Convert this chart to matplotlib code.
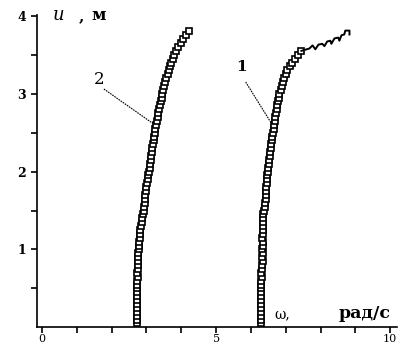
import matplotlib.pyplot as plt
from matplotlib.ticker import MultipleLocator, FixedLocator

# curve 1: omega (rad/s) vs u (m)
u1 = [0.05, 0.10, 0.15, 0.20, 0.25, 0.30, 0.35, 0.40, 0.45, 0.50, 0.55, 0.60, 0.65, 0.70, 0.75,
      0.80, 0.85, 0.90, 0.95, 1.00, 1.05, 1.10, 1.15, 1.20, 1.25, 1.30, 1.35, 1.40, 1.45, 1.50,
      1.55, 1.60, 1.65, 1.70, 1.75, 1.80, 1.85, 1.90, 1.95, 2.00, 2.05, 2.10, 2.15, 2.20, 2.25,
      2.30, 2.35, 2.40, 2.45, 2.50, 2.55, 2.60, 2.65, 2.70, 2.75, 2.80, 2.85, 2.90, 2.95, 3.00,
      3.05, 3.10, 3.15, 3.20, 3.25, 3.30, 3.35, 3.40, 3.45, 3.50, 3.55]
w1 = [6.29, 6.30, 6.29, 6.30, 6.29, 6.30, 6.29, 6.30, 6.30, 6.29, 6.30, 6.30, 6.31, 6.30, 6.31,
      6.33, 6.34, 6.33, 6.34, 6.33, 6.34, 6.34, 6.33, 6.34, 6.35, 6.34, 6.35, 6.35, 6.35, 6.38,
      6.40, 6.41, 6.42, 6.42, 6.43, 6.44, 6.45, 6.46, 6.47, 6.48, 6.50, 6.51, 6.53, 6.54, 6.55,
      6.57, 6.58, 6.60, 6.61, 6.63, 6.65, 6.66, 6.68, 6.70, 6.72, 6.74, 6.76, 6.78, 6.80, 6.82,
      6.85, 6.88, 6.92, 6.96, 7.00, 7.05, 7.11, 7.18, 7.26, 7.35, 7.45]

# zigzag tail at the top of curve 1
w1_tail = [7.45, 7.68, 7.77, 7.85, 7.94, 8.05, 8.11, 8.19, 8.28, 8.31, 8.40, 8.51, 8.54, 8.60,
           8.68, 8.71, 8.83, 8.83]
u1_tail = [3.55, 3.58, 3.62, 3.57, 3.63, 3.64, 3.61, 3.67, 3.68, 3.64, 3.71, 3.72, 3.68, 3.75,
           3.76, 3.81, 3.81, 3.76]

# curve 2
u2 = [0.05, 0.10, 0.15, 0.20, 0.25, 0.30, 0.35, 0.40, 0.45, 0.50, 0.55, 0.60, 0.65, 0.70, 0.75,
      0.80, 0.85, 0.90, 0.95, 1.00, 1.05, 1.10, 1.15, 1.20, 1.25, 1.30, 1.35, 1.40, 1.45, 1.50,
      1.55, 1.60, 1.65, 1.70, 1.75, 1.80, 1.85, 1.90, 1.95, 2.00, 2.05, 2.10, 2.15, 2.20, 2.25,
      2.30, 2.35, 2.40, 2.45, 2.50, 2.55, 2.60, 2.65, 2.70, 2.75, 2.80, 2.85, 2.90, 2.95, 3.00,
      3.05, 3.10, 3.15, 3.20, 3.25, 3.30, 3.35, 3.40, 3.45, 3.50, 3.55, 3.60, 3.65, 3.70, 3.75,
      3.80]
w2 = [2.72, 2.72, 2.73, 2.72, 2.73, 2.72, 2.73, 2.73, 2.74, 2.73, 2.74, 2.74, 2.75, 2.74, 2.75,
      2.76, 2.76, 2.77, 2.77, 2.78, 2.79, 2.80, 2.81, 2.82, 2.83, 2.84, 2.86, 2.88, 2.90, 2.92,
      2.94, 2.95, 2.96, 2.97, 2.99, 3.00, 3.03, 3.05, 3.06, 3.08, 3.10, 3.11, 3.13, 3.14, 3.16,
      3.17, 3.19, 3.21, 3.22, 3.24, 3.26, 3.28, 3.30, 3.32, 3.34, 3.37, 3.39, 3.41, 3.44, 3.46,
      3.49, 3.51, 3.54, 3.57, 3.61, 3.64, 3.68, 3.72, 3.76, 3.80, 3.86, 3.92, 3.98, 4.05, 4.13,
      4.22]

y_ticks = [1, 2, 3, 4]
y_tick_labels = ["1", "2", "3", "4"]
x_ticks = [0, 5, 10]
x_tick_labels = ["0", "5", "10"]

serif = "DejaVu Serif"

fig = plt.figure(figsize=(3.98, 3.49), dpi=100)
ax = fig.add_axes([0.093, 0.062, 0.905, 0.895])

marker_kw = dict(marker="s", markersize=5.0, markerfacecolor="white",
                 markeredgecolor="black", markeredgewidth=1.2, linestyle="none", clip_on=False)
ax.plot(w1, u1, **marker_kw)
ax.plot(w1_tail, u1_tail, color="black", linewidth=1.4, clip_on=False)
ax.plot(w2, u2, **marker_kw)

ax.set_xlim(-0.14, 10.2)
ax.set_ylim(0, 4.01)

for side in ["top", "right"]:
    ax.spines[side].set_visible(False)
for side in ["left", "bottom"]:
    ax.spines[side].set_linewidth(1.2)

ax.xaxis.set_major_locator(FixedLocator(x_ticks))
ax.xaxis.set_minor_locator(MultipleLocator(1))
ax.yaxis.set_major_locator(FixedLocator(y_ticks))
ax.yaxis.set_minor_locator(FixedLocator([0.5, 1.5, 2.5, 3.5]))
ax.set_xticklabels(x_tick_labels, family=serif, fontsize=8)
ax.set_yticklabels(y_tick_labels, family=serif, fontsize=9, fontweight="bold")
ax.tick_params(which="both", direction="out", length=4, width=1.2)
ax.tick_params(axis="y", pad=4)
ax.tick_params(axis="x", pad=1)

# axis titles inside the plot
ax.text(0.30, 3.94, "u", family=serif, style="italic", fontsize=13, va="baseline")
ax.text(1.05, 3.94, ",", family=serif, fontweight="bold", fontsize=11, va="baseline")
ax.text(1.43, 3.94, "м", family=serif, fontweight="bold", fontsize=12, va="baseline")
ax.text(6.68, 0.115, "ω,", family=serif, fontsize=10, va="baseline")
ax.text(10.0, 0.115, "рад/с", family=serif, fontweight="bold", fontsize=12.5,
        va="baseline", ha="right")

# curve numbers with leader lines
ax.text(5.73, 3.34, "1", family=serif, fontweight="bold", fontsize=11, ha="center", va="center")
ax.plot([5.85, 6.56], [3.15, 2.64], color="black", linewidth=0.8, linestyle=(0, (1.5, 0.8)))
ax.text(1.63, 3.18, "2", family=serif, fontsize=12, ha="center", va="center")
ax.plot([1.78, 3.21], [3.06, 2.61], color="black", linewidth=0.8, linestyle=(0, (1.5, 0.8)))

fig.savefig("out.png", dpi=100)
